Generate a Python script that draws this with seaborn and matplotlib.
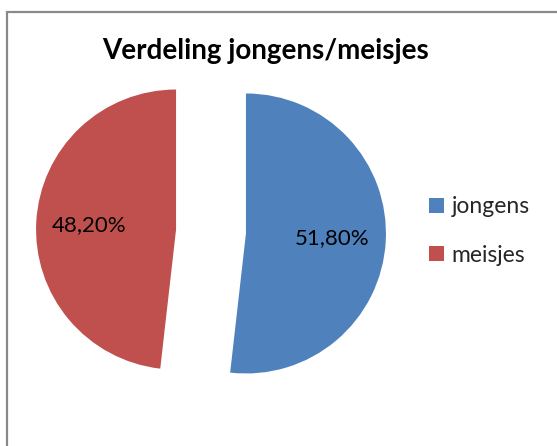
import numpy as np
import seaborn as sns
import matplotlib.pyplot as plt
from matplotlib.patches import Rectangle

# data
labels = ["jongens", "meisjes"]
shares = [51.8, 48.2]
colors = ["#4F81BD", "#C0504D"]
title = "Verdeling jongens/meisjes"

sns.set_theme(style="white")
plt.rcParams['font.family'] = ['Lato', 'DejaVu Sans']

W, H = 557, 446
fig = plt.figure(figsize=(W / 100, H / 100), dpi=100)

# gray chart border (open to the right and bottom like the crop)
fig.patches.append(Rectangle((6.5 / W, -0.05), 1.1, (H - 11.5) / H + 0.05,
                             transform=fig.transFigure, fill=False,
                             edgecolor="#898989", linewidth=1.6))

R = 140  # pie radius in px
cx, cy = 211, H - 231.5
ax = fig.add_axes([(cx - 1.5 * R) / W, (cy - 1.5 * R) / H, 3 * R / W, 3 * R / H])

wedges, _ = ax.pie(shares, colors=colors, startangle=90, counterclock=False,
                   explode=[0.25, 0.25], radius=1,
                   wedgeprops=dict(linewidth=0))
ax.set_xlim(-1.5, 1.5)
ax.set_ylim(-1.5, 1.5)
ax.set_aspect('equal')
ax.axis('off')

# percentage labels
for w, v in zip(wedges, shares):
    mid = np.deg2rad((w.theta1 + w.theta2) / 2)
    x0, y0 = w.center
    ax.text(x0 + 0.62 * np.cos(mid), y0 + 0.62 * np.sin(mid),
            f"{v:.2f}%".replace(".", ","), ha="center", va="center",
            fontsize=16, color="black")

fig.text(266 / W, 1 - 51 / H, title, ha="center", va="center",
         fontsize=20, fontweight="bold", color="black")

fig.legend(wedges, labels, loc="center left",
           bbox_to_anchor=(408 / W, 1 - 231 / H), frameon=False,
           fontsize=16.5, handlelength=0.65, handleheight=0.65,
           handletextpad=0.35, labelspacing=1.2)

fig.savefig("out.png", dpi=100)
